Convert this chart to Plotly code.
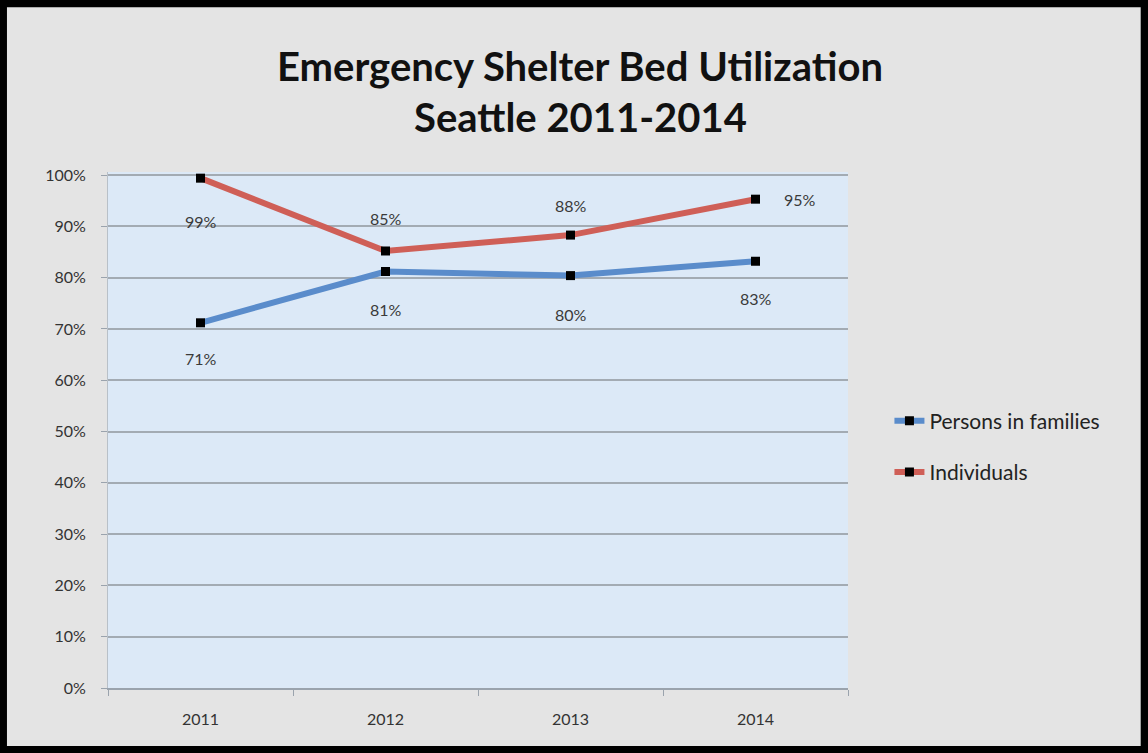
import plotly.graph_objects as go

years = ["2011", "2012", "2013", "2014"]
families = [0.712, 0.812, 0.804, 0.832]
individuals = [0.994, 0.852, 0.883, 0.953]
y_ticks = [0, 0.1, 0.2, 0.3, 0.4, 0.5, 0.6, 0.7, 0.8, 0.9, 1.0]

fam_label_pos = [(0, -36), (0, -38), (0, -39), (0, -37)]
ind_label_pos = [(0, -43), (0, 32), (0, 30), (44, 0)]

FONT = "Lato"
BLUE = "#5a8ccb"
RED = "#cf5f57"

fig = go.Figure()
fig.add_trace(go.Scatter(
    x=years, y=families, name="Persons in families", mode="lines+markers",
    line=dict(color=BLUE, width=6),
    marker=dict(symbol="square", size=9, color="black"),
    legendgroup="a"))
fig.add_trace(go.Scatter(
    x=years, y=individuals, name="Individuals", mode="lines+markers",
    line=dict(color=RED, width=6),
    marker=dict(symbol="square", size=9, color="black"),
    legendgroup="b"))

annotations = []
for vals, offs in ((families, fam_label_pos), (individuals, ind_label_pos)):
    for i, (v, (dx, dy)) in enumerate(zip(vals, offs)):
        annotations.append(dict(
            x=i, y=v, text=f"{round(v*100)}%", showarrow=False,
            xshift=dx, yshift=dy, font=dict(family=FONT, size=16, color="#3a3a3a")))

annotations.append(dict(xref="paper", yref="paper", x=0.638, y=1.0, yshift=106,
                        text="<b>Emergency Shelter Bed Utilization</b>", showarrow=False,
                        xanchor="center", yanchor="middle",
                        font=dict(family=FONT, size=40, color="#111111")))
annotations.append(dict(xref="paper", yref="paper", x=0.638, y=1.0, yshift=55,
                        text="<b>Seattle 2011-2014</b>", showarrow=False,
                        xanchor="center", yanchor="middle",
                        font=dict(family=FONT, size=40, color="#111111")))

fig.update_layout(
    width=1148, height=753,
    margin=dict(l=108, r=300, t=172, b=65),
    paper_bgcolor="#e4e4e4",
    plot_bgcolor="#dce9f7",
    showlegend=True,
    legend=dict(x=1.056, y=0.468, xanchor="left", yanchor="middle",
                bgcolor="rgba(0,0,0,0)", tracegroupgap=21,
                font=dict(family=FONT, size=21, color="#222222")),
    annotations=annotations,
    font=dict(family=FONT),
    shapes=[dict(type="rect", xref="paper", yref="paper", x0=-0.146, x1=1.405,
                 y0=-0.126, y1=1.333, line=dict(color="black", width=14))],
)
fig.update_xaxes(type="category", range=[-0.5, 3.5], showgrid=False, showline=True,
                 linecolor="#9aa3ad", linewidth=2, ticks="outside", ticklen=6,
                 tickcolor="#9aa3ad", tickson="boundaries",
                 tickfont=dict(family=FONT, size=16, color="#333333"),
                 ticklabelstandoff=16)
fig.update_yaxes(range=[0, 1.006], tickvals=y_ticks, tickformat=".0%",
                 showgrid=True, gridcolor="#a3abb3", gridwidth=2,
                 showline=True, linecolor="#b8c0c8", linewidth=1,
                 ticks="outside", ticklen=6, tickcolor="#9aa3ad",
                 zeroline=False, ticklabelstandoff=12,
                 tickfont=dict(family=FONT, size=16, color="#333333"))

fig.write_html("out.html")
